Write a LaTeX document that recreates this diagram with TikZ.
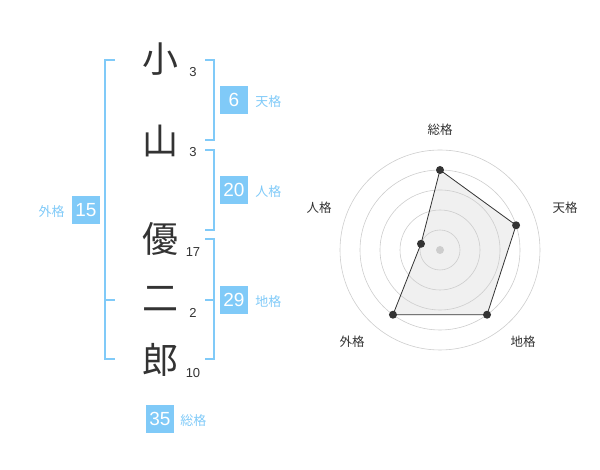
\documentclass[tikz,border=0pt]{standalone}
\usepackage{fontspec}
\setmainfont{Liberation Sans}
\newfontfamily\jp{Noto Sans CJK JP}
\definecolor{kakublue}{RGB}{128,202,248}
\definecolor{inkgray}{RGB}{51,51,51}
\definecolor{ringgray}{RGB}{205,205,205}
\definecolor{areagray}{RGB}{240,240,240}
\tikzset{
  kanji/.style={font=\jp\fontsize{36}{36}\selectfont, text=inkgray, inner sep=0pt},
  kakusu/.style={font=\fontsize{13}{13}\selectfont, text=inkgray, inner sep=0pt},
  kakubox/.style={fill=kakublue, text=white, minimum size=28pt, inner sep=0pt, font=\fontsize{19}{19}\selectfont},
  kakuname/.style={font=\jp\fontsize{13}{13}\selectfont, text=kakublue, inner sep=0pt, yshift=-2pt},
  bracket/.style={draw=kakublue, line width=1.5pt},
  radarname/.style={font=\jp\fontsize{12.5}{12.5}\selectfont, text=inkgray, inner sep=0pt},
  radardot/.style={circle, fill=inkgray, inner sep=0pt, minimum size=8pt},
}
\usetikzlibrary{positioning}
\begin{document}
\begin{tikzpicture}[x=1pt,y=1pt]
    \useasboundingbox (0,0) rectangle (600,470);
    % the name, one character per line, with its stroke count
    \foreach \k/\c/\y/\n/\ny in {a/小/411/3/398,b/山/329/3/318,c/優/231/17/218,d/二/171/2/157,e/郎/110/10/97} {
        \node[kanji] (\k) at (160,\y) {\c};
        \node[kakusu] (n\k) at (193,\ny) {\n};
    }
    % brackets
    \draw[bracket] (115,410) -- (105,410) -- (105,111) -- (115,111);
    \draw[bracket] (105,170) -- (115,170);
    \draw[bracket] (205,410) -- (214,410) -- (214,330) -- (205,330);
    \draw[bracket] (205,320) -- (214,320) -- (214,240) -- (205,240);
    \draw[bracket] (205,231) -- (214,231) -- (214,111) -- (205,111);
    \draw[bracket] (205,170) -- (214,170);
    % totals
    \node[kakubox] (ten) at (234,370) {6};
    \node[kakuname, right=7pt of ten] (tenname) {天格};
    \node[kakubox] (jin) at (234,280) {20};
    \node[kakuname, right=7pt of jin] (jinname) {人格};
    \node[kakubox] (chi) at (234,170) {29};
    \node[kakuname, right=7pt of chi] (chiname) {地格};
    \node[kakubox] (gai) at (86,260) {15};
    \node[kakuname, left=7pt of gai] (gainame) {外格};
    \node[kakubox] (so) at (160,51) {35};
    \node[kakuname, right=6pt of so] (soname) {総格};
    % radar chart
    \begin{scope}[shift={(440,220)}]
        \coordinate (rso) at (90:80);
        \coordinate (rten) at (18:80);
        \coordinate (rchi) at (-54:80);
        \coordinate (rgai) at (-126:80);
        \coordinate (rjin) at (162:20);
        \fill[areagray] (rso) -- (rten) -- (rchi) -- (rgai) -- (rjin) -- cycle;
        \foreach \r in {20,40,60,80,100} {
            \draw[ringgray, line width=0.6pt] (0,0) circle (\r);
        }
        \fill[ringgray] (0,0) circle (4);
        \draw[inkgray, line width=0.8pt] (rso) -- (rten) -- (rchi) -- (rgai) -- (rjin) -- cycle;
        \foreach \p in {rso,rten,rchi,rgai,rjin} {
            \node[radardot] at (\p) {};
        }
        \foreach \p/\t/\x/\y in {so/総格/0/120,ten/天格/125/42,chi/地格/83/-92,gai/外格/-88/-92,jin/人格/-121/42} {
            \node[radarname] (l\p) at (\x,\y) {\t};
        }
    \end{scope}
\end{tikzpicture}
\end{document}
